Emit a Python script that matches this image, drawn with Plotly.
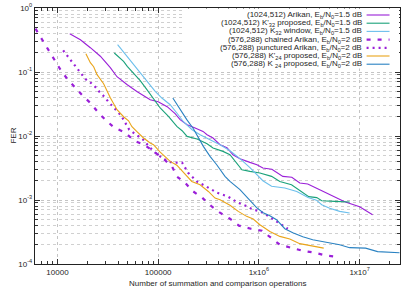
import plotly.graph_objects as go

# ---------------- data ----------------
arikan1024_x = [13240, 16890, 21210, 26650, 33480, 39010, 49320, 61960, 83330, 100000,
                122800, 147300, 165100, 193700, 232500, 278900, 305600, 350400, 411100,
                482300, 552800, 648600, 814600, 955500, 1095000, 1345000, 1728000,
                2122000, 2546000, 3056000, 4018000, 5403000, 7104000, 10000000, 13450000]
arikan1024_y = [0.3967, 0.3197, 0.2397, 0.1765, 0.1167, 0.0844, 0.0633, 0.0492, 0.0369, 0.0343,
                0.0287, 0.0223, 0.0180, 0.0150, 0.01334, 0.0118, 0.01047, 0.0093, 0.00731,
                0.00656, 0.0051, 0.00442, 0.00387, 0.00356, 0.00316, 0.00303, 0.00234,
                0.00227, 0.00184, 0.00178, 0.00145, 0.00114, 0.00094, 0.000786, 0.000589]

kp32_x = [36670, 45340, 49320, 56930, 66350, 77300, 93390, 104700, 126500, 153200, 172800,
          193700, 243300, 305600, 350400, 440200, 516300, 592000, 678600, 814600, 1023000,
          1336000, 1614000, 2108000, 2546000, 3126000, 3752000, 4206000, 5656000, 7962000]
kp32_y = [0.198, 0.1464, 0.1223, 0.0965, 0.0731, 0.0529, 0.0347, 0.0274, 0.0202, 0.01413, 0.0121,
          0.00986, 0.00898, 0.00758, 0.00649, 0.00575, 0.0051, 0.00383, 0.00297, 0.0028, 0.00264,
          0.00234, 0.00195, 0.00173, 0.00142, 0.00113, 0.00109, 0.000975, 0.000951, 0.000931]

k32win_x = [39540, 48990, 61520, 77300, 93390, 108800, 131500, 153200, 178100, 217100, 260500,
            327200, 411100, 516300, 648600, 814600, 948900, 1095000, 1336000, 1809000, 2378000,
            3077000, 3726000, 4206000, 5047000, 6339000, 7962000]
k32win_y = [0.267, 0.1752, 0.1086, 0.0713, 0.0497, 0.0392, 0.0308, 0.0229, 0.0167, 0.01254, 0.01047,
            0.00875, 0.00731, 0.00589, 0.00442, 0.0032, 0.00249, 0.0020, 0.00164, 0.00154, 0.00136,
            0.00109, 0.000993, 0.000845, 0.000745, 0.000664, 0.000626]

chained_x = [6050, 7060, 8090, 9340, 10700, 12480, 14830, 17790, 21570, 25480, 30560, 36640,
             47080, 57800, 72600, 89200, 109600, 137600, 154300, 185000, 217100, 272800, 342600,
             411000, 516000, 634000, 833000, 1072000, 1315000, 1615000, 2074000, 2728000,
             3582000, 4708000, 5914000]
chained_y = [0.475, 0.320, 0.223, 0.156, 0.109, 0.0785, 0.0583, 0.0426, 0.0320, 0.0231, 0.0173,
             0.0135, 0.01127, 0.00845, 0.00731, 0.00569, 0.00458, 0.00331, 0.00231, 0.00186,
             0.00140, 0.00109, 0.000786, 0.000633, 0.000510, 0.000397, 0.000356, 0.000331,
             0.000258, 0.000200, 0.000180, 0.000161, 0.000150, 0.000135, 0.000130]

punct_x = [11390, 12480, 13450, 14500, 15670, 17170, 18930, 21570, 23780, 26660, 29200, 31990,
           35850, 39270, 43020, 47130, 51630, 60550, 71040, 81450, 93390, 112100, 137600, 172800,
           198200, 243300, 292000, 383900, 493300, 619400, 778300, 872000, 977400, 1095000,
           1256000, 1542000, 1728000, 1937000]
punct_y = [0.2175, 0.1817, 0.1557, 0.1300, 0.1114, 0.0941, 0.0777, 0.0673, 0.0583, 0.0470, 0.0411,
           0.0343, 0.0287, 0.0249, 0.0208, 0.0161, 0.01254, 0.01047, 0.00875, 0.00680, 0.00548,
           0.00442, 0.00383, 0.00383, 0.00267, 0.00193, 0.00167, 0.00130, 0.00113, 0.000908,
           0.000786, 0.000705, 0.000680, 0.000633, 0.000548, 0.000442, 0.000397, 0.000356]

kp24_x = [19160, 21210, 22880, 24730, 28730, 33480, 39010, 45340, 50820, 54900, 61520, 71540,
          83330, 89850, 104700, 131500, 153200, 185100, 215700, 260500, 314800, 366700, 411100,
          516300, 623700, 755300, 878400, 1023000, 1285000, 1614000, 2027000, 2546000, 3199000,
          3752000, 4402000]
kp24_y = [0.1932, 0.1397, 0.1210, 0.0908, 0.0657, 0.0397, 0.0258, 0.0200, 0.0173, 0.01397, 0.01168,
          0.00930, 0.00778, 0.00731, 0.00558, 0.00401, 0.00350, 0.00249, 0.00195, 0.00173, 0.00136,
          0.00107, 0.00101, 0.000829, 0.000664, 0.000555, 0.000505, 0.000411, 0.000323, 0.000270,
          0.000246, 0.000208, 0.000193, 0.000184, 0.000177]

k24_x = [139800, 165100, 192400, 223700, 280900, 327200, 381300, 460700, 516300, 648600, 755300,
         948900, 1103000, 1285000, 1497000, 1809000, 2171000, 2727000, 3425000, 4302000, 5403000,
         6339000, 7962000, 11470000, 15080000, 24890000]
k24_y = [0.0392, 0.0258, 0.0180, 0.0130, 0.00688, 0.0048, 0.00356, 0.00234, 0.00195, 0.00145,
         0.00113, 0.000758, 0.000633, 0.000569, 0.000492, 0.000356, 0.000308, 0.000267, 0.000240,
         0.000223, 0.000208, 0.000200, 0.000180, 0.000177, 0.000156, 0.000150]

legend_labels = [
    "(1024,512) Arikan, E<sub>b</sub>/N<sub>0</sub>=1.5 dB",
    "(1024,512) K'<sub>32</sub> proposed, E<sub>b</sub>/N<sub>0</sub>=1.5 dB",
    "(1024,512) K<sub>32</sub> window, E<sub>b</sub>/N<sub>0</sub>=1.5 dB",
    "(576,288) chained Arikan, E<sub>b</sub>/N<sub>0</sub>=2 dB",
    "(576,288) punctured Arikan, E<sub>b</sub>/N<sub>0</sub>=2 dB",
    "(576,288) K'<sub>24</sub> proposed, E<sub>b</sub>/N<sub>0</sub>=2 dB",
    "(576,288) K <sub>24</sub> proposed, E<sub>b</sub>/N<sub>0</sub>=2 dB",
]

x_title = "Number of summation and comparison operations"
y_title = "FER"
x_tickvals = [1e4, 1e5, 1e6, 1e7]
x_ticktext = ["10000", "100000", "1x10<sup>6</sup>", "1x10<sup>7</sup>"]
y_tickvals = [1, 0.1, 0.01, 0.001, 0.0001]
y_ticktext = ["10<sup>0</sup>", "10<sup>-1</sup>", "10<sup>-2</sup>", "10<sup>-3</sup>", "10<sup>-4</sup>"]

# ---------------- styles ----------------
PURPLE = "#9a1fd8"
GREEN = "#1aa27a"
LBLUE = "#6cbfec"
ORANGE = "#eaa51a"
BLUE = "#2a82c2"

series = [
    (arikan1024_x, arikan1024_y, PURPLE, 1.1, "solid"),
    (kp32_x, kp32_y, GREEN, 1.1, "solid"),
    (k32win_x, k32win_y, LBLUE, 1.1, "solid"),
    (chained_x, chained_y, PURPLE, 2.2, "4px,7px"),
    (punct_x, punct_y, PURPLE, 2.2, "2px,4px"),
    (kp24_x, kp24_y, ORANGE, 1.1, "solid"),
    (k24_x, k24_y, BLUE, 1.1, "solid"),
]

fig = go.Figure()
for xs, ys, col, w, dash in series:
    fig.add_trace(go.Scatter(x=xs, y=ys, mode="lines",
                             line=dict(color=col, width=w, dash=dash),
                             showlegend=False, hoverinfo="skip"))

FONT = "Liberation Sans, Arial, sans-serif"
TXT = "#262626"

y_minor = [m * 10 ** e for e in range(-4, 0) for m in range(2, 10)]
x_minor = [m * 10 ** e for e in range(3, 8) for m in range(2, 10)]

L, W, T, H = 34.5, 366.0, 8.0, 256.0
fig.update_layout(
    width=415, height=291,
    margin=dict(l=L, r=415 - L - W, t=T, b=291 - T - H, autoexpand=False),
    paper_bgcolor="white", plot_bgcolor="white",
    font=dict(family=FONT, size=8, color=TXT),
    showlegend=False,
)
fig.update_xaxes(
    type="log", range=[3.777, 7.401], automargin=False,
    tickmode="array", tickvals=x_tickvals, ticktext=x_ticktext,
    ticks="inside", ticklen=5, tickcolor="#333", tickwidth=1,
    showline=True, linecolor="#222", linewidth=1.2, mirror="allticks",
    showgrid=True, gridcolor="#c4c4c4", griddash="dot", gridwidth=1,
    minor=dict(tickvals=x_minor, ticks="inside", ticklen=3, tickcolor="#333", showgrid=False),
    tickfont=dict(size=8, color=TXT), zeroline=False,
)
fig.update_yaxes(
    type="log", range=[-4, 0], automargin=False,
    tickmode="array", tickvals=y_tickvals, ticktext=y_ticktext,
    ticks="inside", ticklen=5, tickcolor="#333", tickwidth=1,
    showline=True, linecolor="#222", linewidth=1.2, mirror="allticks",
    showgrid=True, gridcolor="#c4c4c4", griddash="dot", gridwidth=1,
    minor=dict(tickvals=y_minor, ticks="inside", ticklen=3, tickcolor="#333",
               showgrid=True, gridcolor="#d0d0d0", griddash="dot", gridwidth=1),
    tickfont=dict(size=8, color=TXT), zeroline=False,
)

def px(x):
    return (x - L) / W
def py(y):
    return (T + H - y) / H

# axis titles
fig.add_annotation(xref="paper", yref="paper", x=px(217), y=py(283), text=x_title, showarrow=False,
                   xanchor="center", yanchor="middle", font=dict(size=8, color=TXT, family=FONT))
fig.add_annotation(xref="paper", yref="paper", x=px(12), y=py(136), text=y_title, showarrow=False,
                   textangle=-90, xanchor="center", yanchor="middle", font=dict(size=8, color=TXT, family=FONT))

# ---------------- custom legend (text left of the line sample) ----------------
fig.add_shape(type="rect", xref="paper", yref="paper", x0=px(183), x1=px(399.5), y0=py(68.5), y1=py(8.6),
              fillcolor="white", line=dict(width=0), layer="above")
rows = [15, 23.2, 31.4, 39.6, 47.8, 56, 64.2]
for (xs, ys, col, w, dash), lab, ry in zip(series, legend_labels, rows):
    fig.add_shape(type="line", xref="paper", yref="paper", x0=px(367), x1=px(390), y0=py(ry), y1=py(ry),
                  line=dict(color=col, width=w, dash=dash), layer="above")
    fig.add_annotation(xref="paper", yref="paper", x=px(363), y=py(ry), text=lab, showarrow=False,
                       xanchor="right", yanchor="middle", font=dict(size=8, color=TXT, family=FONT),
                       borderpad=0)

fig.write_html("out.html", config={"displayModeBar": False, "staticPlot": True},
               post_script="document.body.style.margin='0';document.body.style.overflow='hidden';")
